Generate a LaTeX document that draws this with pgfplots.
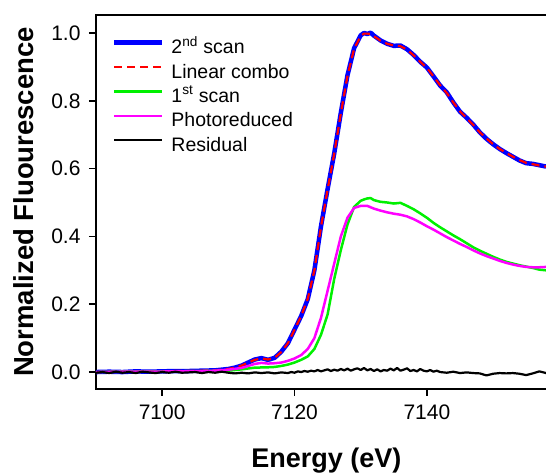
\documentclass[border=0pt]{standalone}
\usepackage{pgfplots}
\pgfplotsset{compat=1.18}
\usepackage{fontspec}
\setmainfont{Liberation Sans}
\definecolor{pblue}{RGB}{0,0,255}
\definecolor{pred}{RGB}{255,0,0}
\definecolor{pgreen}{RGB}{0,240,0}
\definecolor{pmag}{RGB}{255,0,255}
\begin{document}
\begin{tikzpicture}
\begin{axis}[
  at={(0,0)}, anchor=south west,
  scale only axis, width=450pt, height=374pt,
  xmin=7090, xmax=7158, ymin=-0.05, ymax=1.053,
  axis x line*=bottom, axis y line*=left,
  axis line style={line width=2.4pt, line cap=rect},
  every tick/.style={line width=1.6pt, black},
  tick align=outside, major tick length=7pt,
  xtick={7100,7120,7140}, ytick={0,0.2,0.4,0.6,0.8,1.0},
  /pgf/number format/assume math mode=true,
  tick label style={font=\fontsize{21}{25}\selectfont},
  xticklabel style={yshift=-5pt, /pgf/number format/1000 sep={}},
  yticklabel style={xshift=-5pt, /pgf/number format/.cd, fixed, fixed zerofill, precision=1},
  xlabel={Energy (eV)},
  ylabel={Normalized Fluourescence},
  xlabel style={at={(axis description cs:0.512,-0.2112)}, anchor=base, font=\fontsize{27}{32}\selectfont\bfseries},
  ylabel style={at={(axis description cs:-0.1378,0.5)}, anchor=base, font=\fontsize{27.5}{32}\selectfont\bfseries},
  legend cell align=left,
  legend style={at={(rel axis cs:0.0355,0.9366)}, anchor=north west, draw=none, fill=none,
    inner sep=0pt, outer sep=0pt, row sep=4.4pt, column sep=7pt,
    font=\fontsize{19.5}{22}\selectfont,
    nodes={inner sep=0pt, outer sep=0pt, text height=15pt, text depth=5pt}},
  legend image code/.code={\draw[#1] (0pt,6pt) -- (48pt,6pt);},
  line join=round,
]
\addplot[pblue, line width=4.5pt] coordinates {
(7090,0.000) (7092,0.001) (7094,0.000) (7096,0.002) (7098,0.001) (7100,0.002)
(7102,0.003) (7104,0.003) (7106,0.004) (7108,0.005) (7109,0.007) (7110,0.009)
(7111,0.013) (7112,0.019) (7113,0.028) (7114,0.037) (7115,0.041) (7116,0.036)
(7117,0.042) (7118,0.060) (7119,0.085) (7120,0.125) (7121,0.165) (7122,0.215)
(7123,0.300) (7124,0.430) (7125,0.540) (7126,0.645) (7127,0.765) (7128,0.875)
(7129,0.955) (7130,0.993) (7130.5,1.000) (7131,0.997) (7131.5,1.001) (7132,0.992)
(7132.5,0.985) (7133,0.978) (7134,0.968) (7135,0.962) (7136,0.963) (7137,0.952)
(7138,0.935) (7139,0.915) (7140,0.898) (7141,0.872) (7142,0.845) (7143,0.825)
(7144,0.795) (7145,0.768) (7146,0.750) (7147,0.730) (7148,0.707) (7149,0.688)
(7150,0.672) (7151,0.658) (7152,0.646) (7153,0.635) (7154,0.624) (7155,0.616)
(7156,0.614) (7157,0.610) (7158,0.606)
};
\addlegendentry{2\textsuperscript{nd} scan}
\addplot[pred, line width=2.2pt, dash pattern=on 8pt off 5pt] coordinates {
(7090,0.000) (7092,0.001) (7094,0.001) (7096,0.001) (7098,0.002) (7100,0.002)
(7102,0.003) (7104,0.003) (7106,0.004) (7108,0.005) (7109,0.007) (7110,0.009)
(7111,0.013) (7112,0.019) (7113,0.028) (7114,0.036) (7115,0.040) (7116,0.037)
(7117,0.042) (7118,0.059) (7119,0.085) (7120,0.125) (7121,0.165) (7122,0.216)
(7123,0.300) (7124,0.428) (7125,0.538) (7126,0.644) (7127,0.763) (7128,0.873)
(7129,0.953) (7130,0.991) (7130.5,0.998) (7131,0.998) (7131.5,0.997) (7132,0.990)
(7132.5,0.984) (7133,0.977) (7134,0.968) (7135,0.963) (7136,0.961) (7137,0.951)
(7138,0.934) (7139,0.915) (7140,0.897) (7141,0.872) (7142,0.846) (7143,0.823)
(7144,0.795) (7145,0.769) (7146,0.749) (7147,0.729) (7148,0.707) (7149,0.689)
(7150,0.672) (7151,0.658) (7152,0.646) (7153,0.635) (7154,0.625) (7155,0.617)
(7156,0.613) (7157,0.609) (7158,0.606)
};
\addlegendentry{Linear combo}
\addplot[pgreen, line width=2.5pt] coordinates {
(7090,0.000) (7094,0.001) (7098,0.001) (7102,0.002) (7106,0.003) (7110,0.004)
(7112,0.008) (7114,0.013) (7116,0.014) (7117,0.015) (7118,0.018) (7119,0.022)
(7120,0.028) (7121,0.036) (7122,0.046) (7123,0.068) (7124,0.110) (7125,0.170)
(7126,0.275) (7127,0.360) (7128,0.435) (7129,0.487) (7130,0.505) (7130.5,0.509)
(7131,0.512) (7131.5,0.513) (7132,0.507) (7133,0.502) (7134,0.500) (7135,0.497)
(7136,0.499) (7137,0.490) (7138,0.480) (7139,0.468) (7140,0.455) (7141,0.440)
(7142,0.427) (7143,0.415) (7144,0.403) (7145,0.392) (7146,0.380) (7147,0.368)
(7148,0.358) (7149,0.349) (7150,0.340) (7151,0.332) (7152,0.325) (7153,0.320)
(7154,0.315) (7155,0.311) (7156,0.307) (7157,0.302) (7158,0.300)
};
\addlegendentry{1\textsuperscript{st} scan}
\addplot[pmag, line width=2.5pt] coordinates {
(7090,0.000) (7094,0.001) (7098,0.001) (7102,0.002) (7106,0.003) (7108,0.004)
(7110,0.007) (7112,0.012) (7113,0.018) (7114,0.024) (7115,0.027) (7116,0.025)
(7117,0.026) (7118,0.028) (7119,0.033) (7120,0.040) (7121,0.050) (7122,0.068)
(7123,0.100) (7124,0.160) (7125,0.240) (7126,0.320) (7127,0.400) (7128,0.455)
(7129,0.484) (7130,0.490) (7131,0.490) (7132,0.482) (7133,0.476) (7134,0.471)
(7135,0.467) (7136,0.464) (7137,0.459) (7138,0.451) (7139,0.441) (7140,0.430)
(7141,0.420) (7142,0.409) (7143,0.398) (7144,0.388) (7145,0.378) (7146,0.369)
(7147,0.359) (7148,0.350) (7149,0.342) (7150,0.335) (7151,0.328) (7152,0.322)
(7153,0.317) (7154,0.313) (7155,0.310) (7156,0.309) (7157,0.309) (7158,0.310)
};
\addlegendentry{Photoreduced}
\addplot[black, line width=2.2pt] coordinates {
(7090,-0.002) (7091,0.000) (7092,-0.003) (7093,0.001) (7094,-0.002) (7095,0.000)
(7096,-0.003) (7097,0.001) (7098,-0.001) (7099,-0.003) (7100,0.000) (7101,-0.002)
(7102,0.001) (7103,-0.002) (7104,-0.001) (7105,0.000) (7106,-0.003) (7107,0.000)
(7108,-0.002) (7109,0.001) (7110,-0.002) (7111,-0.004) (7112,-0.002) (7113,-0.004)
(7114,-0.001) (7115,-0.003) (7116,-0.001) (7117,-0.004) (7118,-0.001) (7119,-0.003)
(7119.5,0.000) (7120,-0.002) (7120.5,0.002) (7121,0.000) (7121.5,0.003) (7122,0.001)
(7122.5,0.004) (7123,0.002) (7123.5,0.006) (7124,0.002) (7124.5,0.005) (7125,0.008)
(7125.5,0.003) (7126,0.007) (7126.5,0.004) (7127,0.009) (7127.5,0.005) (7128,0.010)
(7128.5,0.004) (7129,0.008) (7129.5,0.011) (7130,0.006) (7130.5,0.012) (7131,0.005)
(7131.5,0.009) (7132,0.003) (7132.5,0.008) (7133,0.002) (7133.5,0.006) (7134,0.004)
(7134.5,0.010) (7135,0.005) (7135.5,0.012) (7136,0.004) (7136.5,0.007) (7137,0.011)
(7137.5,0.003) (7138,0.006) (7138.5,0.002) (7139,0.009) (7139.5,0.004) (7140,0.002)
(7140.5,0.006) (7141,0.001) (7141.5,0.004) (7142,0.000) (7143,-0.002) (7144,0.001)
(7145,-0.003) (7146,-0.001) (7147,-0.003) (7148,-0.004) (7149,-0.010) (7150,-0.005)
(7151,-0.003) (7152,-0.004) (7153,-0.003) (7154,-0.005) (7155,-0.009) (7156,-0.004)
(7157,0.002) (7158,-0.003)
};
\addlegendentry{Residual}
\draw[line width=2.4pt, line cap=rect] (rel axis cs:0,1) -- (rel axis cs:1,1);
\end{axis}
\pgfresetboundingbox
\path[use as bounding box] (-96pt,-84pt) rectangle (450pt,389pt);
\end{tikzpicture}
\end{document}
